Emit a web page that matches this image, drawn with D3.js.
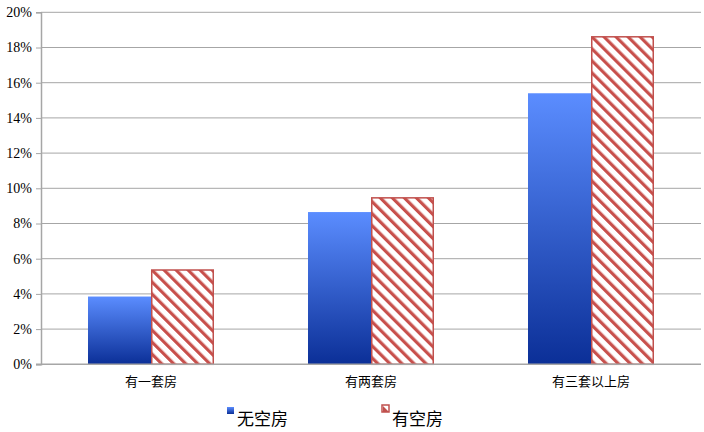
<!DOCTYPE html>
<html><head><meta charset="utf-8">
<script src="https://cdn.jsdelivr.net/npm/d3@7"></script>
<style>body{margin:0;background:#fff}</style>
</head><body>
<svg id="c" width="704" height="432"></svg>
<script>
const categories = ["有一套房", "有两套房", "有三套以上房"];
const seriesNames = ["无空房", "有空房"];
const noVacant = [3.85, 8.65, 15.4];
const hasVacant = [5.4, 9.5, 18.65];
const yTicks = [0, 2, 4, 6, 8, 10, 12, 14, 16, 18, 20];

const svg = d3.select("#c");
const m = {l: 41, r: 3, t: 12.3, b: 68};
const W = 704, H = 432;
const x = d3.scaleBand().domain(categories).range([m.l, W - m.r]).paddingInner(0).paddingOuter(0);
const y = d3.scaleLinear().domain([0, 20]).range([364.3, 12.3]);

const defs = svg.append("defs");
const g = defs.append("linearGradient").attr("id", "blueG").attr("x1", 0).attr("y1", 0).attr("x2", 0).attr("y2", 1);
g.append("stop").attr("offset", "0%").attr("stop-color", "#5b8dff");
g.append("stop").attr("offset", "100%").attr("stop-color", "#0b2f97");
const p = defs.append("pattern").attr("id", "hatch").attr("patternUnits", "userSpaceOnUse")
  .attr("width", 8.5).attr("height", 8.5).attr("patternTransform", "rotate(-45)");
p.append("rect").attr("width", 8.5).attr("height", 8.5).attr("fill", "#fff");
p.append("rect").attr("x", 0).attr("width", 3.2).attr("height", 8.5).attr("fill", "#c8504c");

// gridlines
svg.append("g").selectAll("line").data(yTicks.filter(d => d > 0)).join("line")
  .attr("x1", m.l).attr("x2", W - m.r).attr("y1", d => y(d)).attr("y2", d => y(d))
  .attr("stroke", "#a6a6a6").attr("stroke-width", 1);

// y axis
const ya = svg.append("g").attr("transform", `translate(${m.l},0)`)
  .call(d3.axisLeft(y).tickValues(yTicks).tickFormat(d => d + "%").tickSize(5));
ya.attr("font-family", "Liberation Serif").attr("font-size", 14);
ya.select(".domain").attr("stroke", "#a6a6a6").attr("stroke-width", 1.5);
ya.selectAll(".tick line").attr("stroke", "#a6a6a6");
ya.selectAll("text").attr("fill", "#000").attr("dx", "-1");

const bw = 63;
const xs = d3.scaleBand().domain([0, 1]).range([0, bw * 2]);
const grp = svg.append("g");
categories.forEach((c, i) => {
  const cx = x(c) + x.bandwidth() / 2 - bw;
  grp.append("rect").attr("x", cx + xs(0)).attr("width", bw)
    .attr("y", y(noVacant[i])).attr("height", y(0) - y(noVacant[i])).attr("fill", "url(#blueG)");
  grp.append("rect").attr("x", cx + xs(1) + 0.75).attr("width", bw - 1.5)
    .attr("y", y(hasVacant[i]) + 0.75).attr("height", y(0) - y(hasVacant[i]) - 0.75)
    .attr("fill", "url(#hatch)").attr("stroke", "#c0504d").attr("stroke-width", 1.5);
});

// x axis baseline
svg.append("line").attr("x1", m.l - 5).attr("x2", W - m.r).attr("y1", y(0)).attr("y2", y(0))
  .attr("stroke", "#a6a6a6").attr("stroke-width", 1.5);
const xa = svg.append("g").attr("transform", `translate(0,${y(0)})`)
  .call(d3.axisBottom(x).tickSize(0).tickPadding(12));
xa.select(".domain").remove();
xa.attr("font-family", "Noto Sans CJK SC").attr("font-size", 13);
xa.selectAll("text").attr("fill", "#000");

// legend
const leg = svg.append("g").attr("font-family", "Noto Sans CJK SC").attr("font-size", 17);
leg.append("rect").attr("x", 227).attr("y", 407).attr("width", 7).attr("height", 7).attr("fill", "url(#blueG)");
leg.append("text").attr("x", 237).attr("y", 425).text(seriesNames[0]);
leg.append("rect").attr("x", 382).attr("y", 405).attr("width", 7).attr("height", 7)
  .attr("fill", "#fff").attr("stroke", "#c0504d").attr("stroke-width", 1.5);
leg.append("path").attr("d", "M383,406 L389,412 L383,412 Z").attr("fill", "#c0504d");
leg.append("text").attr("x", 392).attr("y", 425).text(seriesNames[1]);
</script>
</body></html>
